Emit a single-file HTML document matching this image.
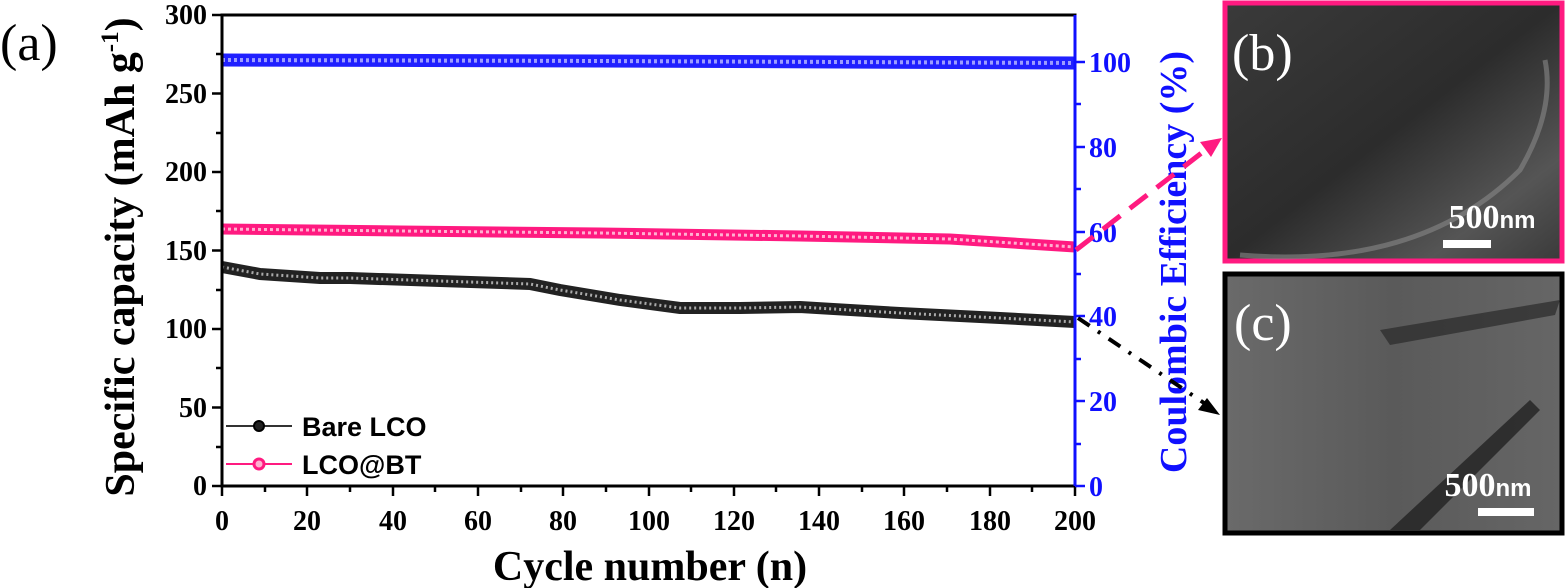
<!DOCTYPE html>
<html><head><meta charset="utf-8"><style>
html,body{margin:0;padding:0;background:#fff;}
svg{display:block;}
text{font-family:"Liberation Serif",serif;font-weight:bold;}
</style></head><body>
<svg width="1566" height="588" viewBox="0 0 1566 588" xmlns="http://www.w3.org/2000/svg">
<defs>
<linearGradient id="gb" x1="0" y1="0" x2="1" y2="1">
<stop offset="0" stop-color="#3a3a3a"/><stop offset="0.5" stop-color="#2c2c2c"/><stop offset="0.8" stop-color="#555"/><stop offset="1" stop-color="#3a3a3a"/></linearGradient>
<linearGradient id="gc" x1="0" y1="0" x2="1" y2="0">
<stop offset="0" stop-color="#6a6a6a"/><stop offset="0.5" stop-color="#5a5a5a"/><stop offset="1" stop-color="#666"/></linearGradient>
</defs>
<text x="0" y="60" font-size="52" style="font-weight:normal">(a)</text>
<!-- series -->
<polyline fill="none" stroke="#2020ff" stroke-width="13" points="222,60 600,61 1075,63"/>
<polyline fill="none" stroke="#9d9dff" stroke-width="4" stroke-dasharray="3,3" points="222,60 600,61 1075,63"/>
<polyline fill="none" stroke="#ff1a80" stroke-width="11" points="222,229 400,231 600,233 800,236 950,239 1075,247"/>
<polyline fill="none" stroke="#ffb0d0" stroke-width="3" stroke-dasharray="3,3" points="222,229 400,231 600,233 800,236 950,239 1075,247"/>
<polyline fill="none" stroke="#222" stroke-width="12" points="222,267 260,274 320,278 350,278 440,281 530,284 560,290 620,300 680,308 740,308 800,307 900,313 1000,318 1075,322"/>
<polyline fill="none" stroke="#aaa" stroke-width="3" stroke-dasharray="2,3" points="222,267 260,274 320,278 350,278 440,281 530,284 560,290 620,300 680,308 740,308 800,307 900,313 1000,318 1075,322"/>
<!-- axes -->
<rect x="222" y="15" width="853" height="471" fill="none" stroke="#000" stroke-width="3"/>
<line x1="1075" y1="15" x2="1075" y2="486" stroke="#1010ff" stroke-width="3"/>
<g stroke="#000" stroke-width="2.5">
<line x1="212" y1="15" x2="222" y2="15"/><line x1="212" y1="93.5" x2="222" y2="93.5"/><line x1="212" y1="172" x2="222" y2="172"/><line x1="212" y1="250.5" x2="222" y2="250.5"/><line x1="212" y1="329" x2="222" y2="329"/><line x1="212" y1="407.5" x2="222" y2="407.5"/><line x1="212" y1="486" x2="222" y2="486"/>
<line x1="216" y1="54" x2="222" y2="54"/><line x1="216" y1="133" x2="222" y2="133"/><line x1="216" y1="211" x2="222" y2="211"/><line x1="216" y1="290" x2="222" y2="290"/><line x1="216" y1="368" x2="222" y2="368"/><line x1="216" y1="447" x2="222" y2="447"/>
</g>
<g stroke="#000" stroke-width="2.5">
<line x1="222" y1="486" x2="222" y2="496"/><line x1="307" y1="486" x2="307" y2="496"/><line x1="393" y1="486" x2="393" y2="496"/><line x1="478" y1="486" x2="478" y2="496"/><line x1="563" y1="486" x2="563" y2="496"/><line x1="649" y1="486" x2="649" y2="496"/><line x1="734" y1="486" x2="734" y2="496"/><line x1="819" y1="486" x2="819" y2="496"/><line x1="904" y1="486" x2="904" y2="496"/><line x1="990" y1="486" x2="990" y2="496"/><line x1="1075" y1="486" x2="1075" y2="496"/>
<line x1="265" y1="486" x2="265" y2="492"/><line x1="350" y1="486" x2="350" y2="492"/><line x1="435" y1="486" x2="435" y2="492"/><line x1="521" y1="486" x2="521" y2="492"/><line x1="606" y1="486" x2="606" y2="492"/><line x1="691" y1="486" x2="691" y2="492"/><line x1="776" y1="486" x2="776" y2="492"/><line x1="862" y1="486" x2="862" y2="492"/><line x1="947" y1="486" x2="947" y2="492"/><line x1="1032" y1="486" x2="1032" y2="492"/>
</g>
<g stroke="#1010ff" stroke-width="2.5">
<line x1="1075" y1="62" x2="1085" y2="62"/><line x1="1075" y1="147" x2="1085" y2="147"/><line x1="1075" y1="232" x2="1085" y2="232"/><line x1="1075" y1="316" x2="1085" y2="316"/><line x1="1075" y1="401" x2="1085" y2="401"/><line x1="1075" y1="486" x2="1085" y2="486"/>
<line x1="1075" y1="104" x2="1081" y2="104"/><line x1="1075" y1="189" x2="1081" y2="189"/><line x1="1075" y1="274" x2="1081" y2="274"/><line x1="1075" y1="359" x2="1081" y2="359"/><line x1="1075" y1="444" x2="1081" y2="444"/>
</g>
<g font-size="28" text-anchor="end">
<text x="207" y="24">300</text><text x="207" y="103">250</text><text x="207" y="181">200</text><text x="207" y="260">150</text><text x="207" y="338">100</text><text x="207" y="417">50</text><text x="207" y="495">0</text>
</g>
<g font-size="28" text-anchor="middle">
<text x="222" y="530">0</text><text x="307" y="530">20</text><text x="393" y="530">40</text><text x="478" y="530">60</text><text x="563" y="530">80</text><text x="649" y="530">100</text><text x="734" y="530">120</text><text x="819" y="530">140</text><text x="904" y="530">160</text><text x="990" y="530">180</text><text x="1075" y="530">200</text>
</g>
<g font-size="28" fill="#1010ff">
<text x="1089" y="72">100</text><text x="1089" y="157">80</text><text x="1089" y="242">60</text><text x="1089" y="326">40</text><text x="1089" y="411">20</text><text x="1089" y="496">0</text>
</g>
<text x="650" y="580" font-size="42" text-anchor="middle">Cycle number (n)</text>
<text transform="translate(134,257) rotate(-90)" font-size="42" text-anchor="middle">Specific capacity (mAh g<tspan font-size="25" dy="-16">-1</tspan><tspan dy="16">)</tspan></text>
<text transform="translate(1186,262) rotate(-90)" font-size="38" text-anchor="middle" fill="#1010ff">Coulombic Efficiency (%)</text>
<!-- legend -->
<line x1="226" y1="426" x2="292" y2="426" stroke="#333" stroke-width="2"/>
<circle cx="259" cy="426" r="5" fill="#222" stroke="#000" stroke-width="2"/>
<line x1="226" y1="464" x2="292" y2="464" stroke="#ff1a80" stroke-width="2"/>
<circle cx="259" cy="464" r="5" fill="#ffb0d0" stroke="#ff1a80" stroke-width="3"/>
<text x="302" y="436" font-size="27" style="font-family:'Liberation Sans',sans-serif">Bare LCO</text>
<text x="302" y="474" font-size="27" style="font-family:'Liberation Sans',sans-serif">LCO@BT</text>
<!-- arrows -->
<line x1="1076" y1="250" x2="1208" y2="148" stroke="#ff1a80" stroke-width="5" stroke-dasharray="22,12"/>
<polygon points="1222,138 1200,142 1211,157" fill="#ff1a80"/>
<line x1="1078" y1="318" x2="1207" y2="405" stroke="#000" stroke-width="4" stroke-dasharray="14,10,3,10"/>
<polygon points="1220,415 1198,410 1207,398" fill="#000"/>
<!-- panel b -->
<rect x="1225" y="3" width="337" height="258" fill="url(#gb)" stroke="#ff1a80" stroke-width="5"/>
<path d="M1240 255 Q1420 270 1520 170 Q1555 110 1545 60" fill="none" stroke="#888" stroke-width="5" opacity="0.6"/>
<text x="1232" y="70" font-size="52" fill="#fff" style="font-weight:normal">(b)</text>
<text x="1492" y="228" font-size="34" fill="#fff" text-anchor="middle">500<tspan font-size="24" style="font-family:'Liberation Sans',sans-serif">nm</tspan></text>
<rect x="1443" y="240" width="48" height="8" fill="#fff"/>
<!-- panel c -->
<rect x="1225" y="274" width="337" height="259" fill="url(#gc)" stroke="#000" stroke-width="5"/>
<path d="M1390 530 L1530 400 L1540 410 L1420 530 Z" fill="#222" opacity="0.8"/>
<path d="M1380 330 L1560 300 L1555 315 L1390 345 Z" fill="#2a2a2a" opacity="0.7"/>
<text x="1234" y="340" font-size="52" fill="#fff" style="font-weight:normal">(c)</text>
<text x="1488" y="496" font-size="34" fill="#fff" text-anchor="middle">500<tspan font-size="24" style="font-family:'Liberation Sans',sans-serif">nm</tspan></text>
<rect x="1478" y="508" width="56" height="8" fill="#fff"/>
</svg>
</body></html>
